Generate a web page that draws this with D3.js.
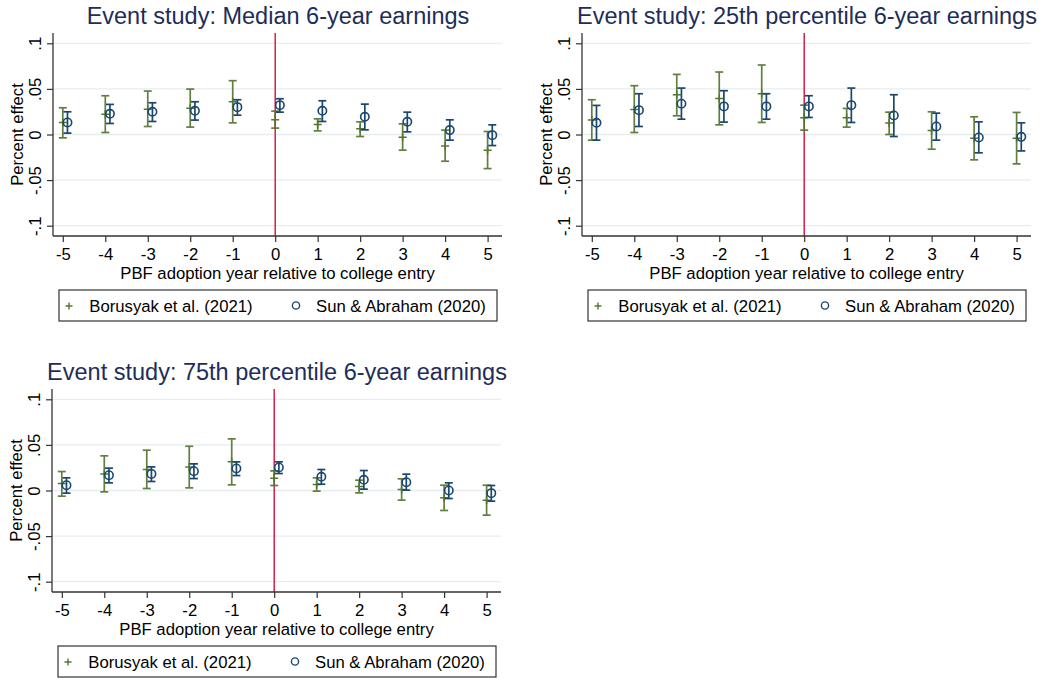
<!DOCTYPE html>
<html>
<head>
<meta charset="utf-8">
<script src="https://cdn.jsdelivr.net/npm/d3@7"></script>
<style>
  html, body { margin: 0; padding: 0; background: #fff; }
  svg { display: block; font-family: "Liberation Sans", Arial, sans-serif; }
</style>
</head>
<body>
<svg id="chart" width="1041" height="679"></svg>
<script>
// Event times relative to college entry
const eventTimes = [-5, -4, -3, -2, -1, 0, 1, 2, 3, 4, 5];
const xTickLabels = ["-5", "-4", "-3", "-2", "-1", "0", "1", "2", "3", "4", "5"];
const yTickValues = [-0.1, -0.05, 0, 0.05, 0.1];
const yTickLabels = ["-.1", "-.05", "0", ".05", ".1"];

// Median 6-year earnings
const medianBorusyak   = [0.0132, 0.0223, 0.0278, 0.0289, 0.0359, 0.0161, 0.0110, 0.0062, -0.0029, -0.0125, -0.0172];
const medianBorusyakLo = [-0.0037, 0.0022, 0.0088, 0.0081, 0.0128, 0.0070, 0.0040, -0.0022, -0.0172, -0.0293, -0.0374];
const medianBorusyakHi = [0.0293, 0.0425, 0.0476, 0.0498, 0.0590, 0.0256, 0.0172, 0.0139, 0.0117, 0.0048, 0.0033];
const medianSun        = [0.0132, 0.0227, 0.0249, 0.0260, 0.0300, 0.0322, 0.0260, 0.0194, 0.0139, 0.0048, -0.0007];
const medianSunLo      = [0.0015, 0.0121, 0.0143, 0.0158, 0.0212, 0.0245, 0.0143, 0.0051, 0.0029, -0.0062, -0.0121];
const medianSunHi      = [0.0249, 0.0330, 0.0348, 0.0359, 0.0381, 0.0392, 0.0370, 0.0333, 0.0245, 0.0161, 0.0106];

// 25th percentile 6-year earnings
const p25Borusyak   = [0.0158, 0.0275, 0.0436, 0.0396, 0.0447, 0.0183, 0.0183, 0.0125, 0.0044, -0.0040, -0.0040];
const p25BorusyakLo = [-0.0062, 0.0022, 0.0205, 0.0106, 0.0132, 0.0048, 0.0081, 0.0000, -0.0161, -0.0278, -0.0322];
const p25BorusyakHi = [0.0381, 0.0535, 0.0659, 0.0685, 0.0762, 0.0322, 0.0286, 0.0245, 0.0249, 0.0194, 0.0242];
const p25Sun        = [0.0128, 0.0267, 0.0337, 0.0308, 0.0308, 0.0308, 0.0322, 0.0209, 0.0088, -0.0033, -0.0026];
const p25SunLo      = [-0.0062, 0.0088, 0.0168, 0.0136, 0.0168, 0.0187, 0.0132, -0.0022, -0.0062, -0.0201, -0.0180];
const p25SunHi      = [0.0319, 0.0447, 0.0509, 0.0480, 0.0447, 0.0425, 0.0509, 0.0436, 0.0234, 0.0139, 0.0128];

// 75th percentile 6-year earnings
const p75Borusyak   = [0.0077, 0.0182, 0.0230, 0.0259, 0.0314, 0.0135, 0.0066, 0.0044, 0.0011, -0.0080, -0.0106];
const p75BorusyakLo = [-0.0062, -0.0015, 0.0022, 0.0029, 0.0062, 0.0055, -0.0007, -0.0026, -0.0106, -0.0219, -0.0270];
const p75BorusyakHi = [0.0208, 0.0380, 0.0442, 0.0485, 0.0566, 0.0215, 0.0139, 0.0113, 0.0128, 0.0058, 0.0058];
const p75Sun        = [0.0058, 0.0168, 0.0182, 0.0212, 0.0241, 0.0252, 0.0150, 0.0117, 0.0091, 0.0000, -0.0029];
const p75SunLo      = [-0.0029, 0.0084, 0.0099, 0.0131, 0.0164, 0.0186, 0.0069, 0.0015, 0.0004, -0.0088, -0.0117];
const p75SunHi      = [0.0139, 0.0245, 0.0259, 0.0292, 0.0314, 0.0314, 0.0230, 0.0219, 0.0179, 0.0084, 0.0055];

const seriesNames = ["Borusyak et al. (2021)", "Sun & Abraham (2020)"];
const panelTitles = [
  "Event study: Median 6-year earnings",
  "Event study: 25th percentile 6-year earnings",
  "Event study: 75th percentile 6-year earnings"
];
const xAxisTitle = "PBF adoption year relative to college entry";
const yAxisTitle = "Percent effect";

const COLORS = {
  green: "#55752f",
  navy: "#1a476f",
  red: "#d0103a",
  title: "#1e2d5a",
  grid: "#e6eef0",
  axis: "#333"
};

const FONT = "16.7px";
const TITLE_FONT = "23.5px";

const svg = d3.select("#chart");

const panels = [
  { title: panelTitles[0], left: 53, top: 33,
    b: [medianBorusyak, medianBorusyakLo, medianBorusyakHi],
    s: [medianSun, medianSunLo, medianSunHi] },
  { title: panelTitles[1], left: 582, top: 33,
    b: [p25Borusyak, p25BorusyakLo, p25BorusyakHi],
    s: [p25Sun, p25SunLo, p25SunHi] },
  { title: panelTitles[2], left: 52, top: 389,
    b: [p75Borusyak, p75BorusyakLo, p75BorusyakHi],
    s: [p75Sun, p75SunLo, p75SunHi] }
];

const PW = 449, PH = 203;   // plot region size
const SUN_SHIFT = 0.11;     // horizontal offset of the second estimator

function drawPanel(p) {
  const g = svg.append("g").attr("transform", `translate(${p.left},${p.top})`);

  const x = d3.scaleLinear().domain([-5, 5]).range([9.8, 434.6]);
  const y = d3.scaleLinear().domain([-0.1, 0.1]).range([192.7, 10.3]);

  // grid lines
  g.append("g").selectAll("line").data(yTickValues).join("line")
    .attr("x1", 0).attr("x2", PW)
    .attr("y1", d => y(d)).attr("y2", d => y(d))
    .attr("stroke", COLORS.grid).attr("stroke-width", 1.3);

  // event line at 0
  g.append("line")
    .attr("x1", x(0)).attr("x2", x(0)).attr("y1", 0).attr("y2", PH)
    .attr("stroke", COLORS.red).attr("stroke-width", 1.4);

  // y axis
  const yAxis = d3.axisLeft(y).tickValues(yTickValues)
    .tickFormat((d, i) => yTickLabels[i]).tickSize(6).tickPadding(6);
  const ya = g.append("g").call(yAxis);
  ya.select(".domain").attr("d", `M0,0V${PH}`).attr("stroke", COLORS.axis).attr("stroke-width", 1.3);
  ya.selectAll(".tick line").attr("stroke", COLORS.axis).attr("stroke-width", 1.2);
  ya.selectAll(".tick text")
    .attr("x", null).attr("dy", null)
    .attr("transform", "translate(-12.5,0) rotate(-90)")
    .attr("text-anchor", "middle")
    .attr("fill", "#000").style("font-size", FONT);

  // x axis
  const xAxis = d3.axisBottom(x).tickValues(eventTimes)
    .tickFormat((d, i) => xTickLabels[i]).tickSize(6).tickPadding(8);
  const xa = g.append("g").attr("transform", `translate(0,${PH})`).call(xAxis);
  xa.select(".domain").attr("d", `M0,0H${PW}`).attr("stroke", COLORS.axis).attr("stroke-width", 1.3);
  xa.selectAll(".tick line").attr("stroke", COLORS.axis).attr("stroke-width", 1.2);
  xa.selectAll(".tick text").attr("y", null).attr("dy", null)
    .attr("transform", "translate(0,24)")
    .attr("fill", "#000").style("font-size", FONT);

  // titles
  g.append("text").attr("x", PW / 2 + 0.5).attr("y", -8.7)
    .attr("text-anchor", "middle").attr("fill", COLORS.title)
    .style("font-size", TITLE_FONT).text(p.title);
  g.append("text").attr("x", PW / 2).attr("y", PH + 42.5)
    .attr("text-anchor", "middle").attr("fill", "#000")
    .style("font-size", FONT).text(xAxisTitle);
  g.append("text")
    .attr("transform", `translate(${-30.5},${PH / 2}) rotate(-90)`)
    .attr("text-anchor", "middle").attr("fill", "#000")
    .style("font-size", FONT).text(yAxisTitle);

  const cap = 4;
  function rcap(group, est, lo, hi, shift, color, width) {
    const data = eventTimes.map((t, i) => ({ t: t + shift, est: est[i], lo: lo[i], hi: hi[i] }));
    const sel = group.selectAll("g").data(data).join("g")
      .attr("stroke", color).attr("stroke-width", width).attr("fill", "none");
    sel.append("line").attr("x1", d => x(d.t)).attr("x2", d => x(d.t))
      .attr("y1", d => y(d.lo)).attr("y2", d => y(d.hi));
    sel.append("line").attr("x1", d => x(d.t) - cap).attr("x2", d => x(d.t) + cap)
      .attr("y1", d => y(d.lo)).attr("y2", d => y(d.lo));
    sel.append("line").attr("x1", d => x(d.t) - cap).attr("x2", d => x(d.t) + cap)
      .attr("y1", d => y(d.hi)).attr("y2", d => y(d.hi));
    return data;
  }

  // Borusyak et al.: capped intervals with plus markers
  const gb = g.append("g").attr("opacity", 0.92);
  const bData = rcap(gb, p.b[0], p.b[1], p.b[2], 0, COLORS.green, 1.7);
  g.append("g").selectAll("path").data(bData).join("path")
    .attr("d", d => `M${x(d.t) - 4},${y(d.est)}H${x(d.t) + 4}M${x(d.t)},${y(d.est) - 4}V${y(d.est) + 4}`)
    .attr("stroke", COLORS.green).attr("stroke-width", 1.5).attr("fill", "none");

  // Sun & Abraham: capped intervals with hollow circles
  const gs = g.append("g");
  const sData = rcap(gs, p.s[0], p.s[1], p.s[2], SUN_SHIFT, COLORS.navy, 1.7);
  g.append("g").selectAll("circle").data(sData).join("circle")
    .attr("cx", d => x(d.t)).attr("cy", d => y(d.est)).attr("r", 4.2)
    .attr("stroke", COLORS.navy).attr("stroke-width", 1.6).attr("fill", "none");

  // legend
  const lg = g.append("g").attr("transform", `translate(6,${PH + 54})`);
  lg.append("rect").attr("x", 0).attr("y", 0).attr("width", 438).attr("height", 31)
    .attr("fill", "#fff").attr("stroke", "#333").attr("stroke-width", 1.2);
  lg.append("path").attr("d", "M6.5,16H13.5M10,12.5V19.5")
    .attr("stroke", COLORS.green).attr("stroke-width", 1.4).attr("fill", "none");
  lg.append("text").attr("x", 30.3).attr("y", 21.5).attr("fill", "#000")
    .style("font-size", FONT).text(seriesNames[0]);
  lg.append("circle").attr("cx", 237).attr("cy", 15.5).attr("r", 3.6)
    .attr("stroke", COLORS.navy).attr("stroke-width", 1.4).attr("fill", "none");
  lg.append("text").attr("x", 257).attr("y", 21.5).attr("fill", "#000")
    .style("font-size", FONT).text(seriesNames[1]);
}

panels.forEach(drawPanel);
</script>
</body>
</html>
